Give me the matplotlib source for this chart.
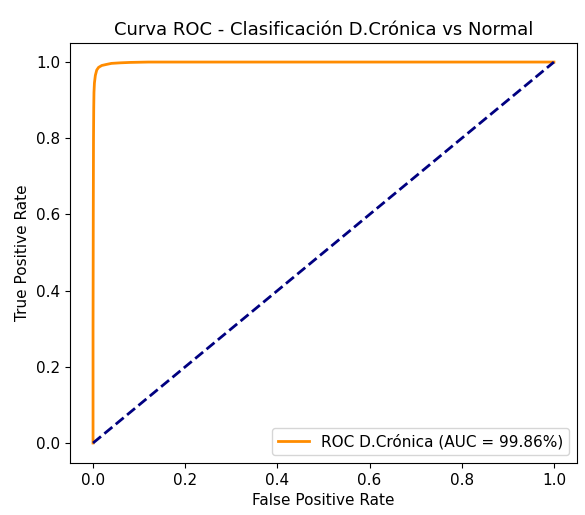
import matplotlib
matplotlib.use("Agg")
from matplotlib import pyplot as plt

plt.rcParams['font.size'] = 11

# ROC points
fpr = [0.0, 0.0, 0.0005, 0.001, 0.0015, 0.002, 0.003, 0.005, 0.008, 0.012,
       0.019, 0.03, 0.04, 0.06, 0.08, 0.1, 0.12, 1.0]
tpr = [0.0, 0.3, 0.6, 0.8, 0.88, 0.92, 0.945, 0.965, 0.979, 0.986,
       0.991, 0.994, 0.9965, 0.998, 0.999, 0.9995, 1.0, 1.0]
auc_pct = 99.86
chance = [0, 1]

fig = plt.figure(figsize=(5.85, 5.15), dpi=100)
ax = fig.add_axes([70 / 585, 1 - 463 / 515, 507 / 585, 420 / 515])
ax.plot(fpr, tpr, color='darkorange', lw=2,
        label='ROC D.Crónica (AUC = %0.2f%%)' % auc_pct)
ax.plot(chance, chance, color='navy', lw=2, linestyle='--')
ax.set_ylim(-0.0525, 1.05)
ax.set_xlabel('False Positive Rate')
ax.set_ylabel('True Positive Rate')
ax.set_title('Curva ROC - Clasificación D.Crónica vs Normal', fontsize=13)
ax.legend(loc='lower right')
fig.savefig('out.png', dpi=100)
